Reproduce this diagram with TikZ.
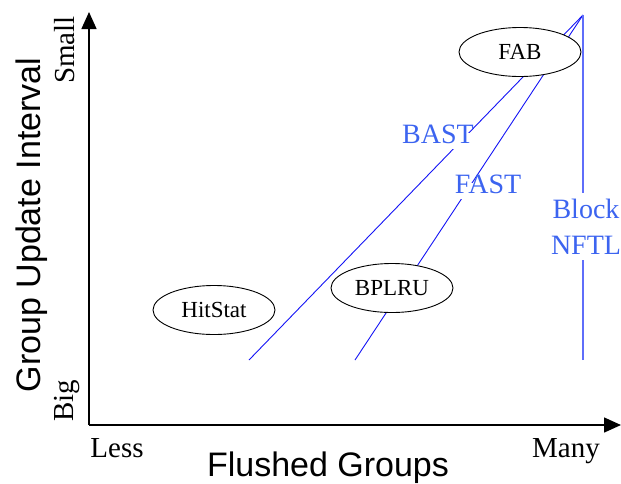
\documentclass[tikz,border=0pt]{standalone}
\usepackage{fontspec}
\setmainfont{Liberation Serif}
\newfontfamily\axisfont{Liberation Sans}
\usetikzlibrary{arrows.meta,shapes.geometric}
\definecolor{lineblue}{RGB}{20,20,245}
\definecolor{nftlblue}{RGB}{95,110,250}
\definecolor{labelblue}{RGB}{60,100,240}

\begin{document}
\begin{tikzpicture}[x=1pt,y=-1pt,
  axis/.style={line width=1.5pt,-{Triangle[length=17pt,width=15pt]}},
  trend/.style={draw=lineblue,line width=0.9pt},
  scheme/.style={ellipse,draw,line width=0.9pt,fill=white,minimum width=122pt,
    minimum height=49pt,inner sep=0pt,font=\fontsize{23}{28}\selectfont},
  tag/.style={text=labelblue,fill=white,inner sep=3pt,text height=0.75em,
    text depth=0.25em,font=\fontsize{28}{36}\selectfont},
  tick/.style={font=\fontsize{29}{34}\selectfont},
  title/.style={font=\axisfont\fontsize{34}{40}\selectfont}]
\useasboundingbox (0,0) rectangle (621,483);

% axes
\coordinate (origin) at (89,425);
\coordinate (ytip) at (89,12);
\coordinate (xtip) at (621,425);
\draw[axis] (origin) -- (ytip);
\draw[axis] (origin) -- (xtip);

% trend lines meeting at the top right
\coordinate (apex) at (583,15);
\coordinate (bastlow) at (249,360);
\coordinate (fastlow) at (355,360);
\coordinate (nftllow) at (583,360);
\draw[trend] (bastlow) -- (apex);
\draw[trend] (fastlow) -- (apex);
\draw[draw=nftlblue,line width=1.6pt] (nftllow) -- (apex);

% line labels
\node[tag,anchor=base] (bast) at (438,143) {BAST};
\node[tag,anchor=base] (fast) at (488,193) {FAST};
\node[text=labelblue,fill=white,inner xsep=3pt,inner ysep=6pt,align=center,
  font=\fontsize{28}{36}\selectfont] (nftl) at (586,226.5) {Block\\NFTL};

% schemes
\node[scheme] (fab) at (520,52) {FAB};
\node[scheme] (bplru) at (392,288) {BPLRU};
\node[scheme] (hitstat) at (214,310) {HitStat};

% axis ticks and titles
\node[tick,rotate=90,anchor=base] (small) at (74,50) {Small};
\node[tick,rotate=90,anchor=base] (big) at (73,401) {Big};
\node[tick,anchor=base] (less) at (117,457) {Less};
\node[tick,anchor=base] (many) at (566,457) {Many};
\node[title,rotate=90,anchor=base] (ytitle) at (40,225) {Group Update Interval};
\node[title,anchor=base] (xtitle) at (328,476) {Flushed Groups};
\end{tikzpicture}
\end{document}
